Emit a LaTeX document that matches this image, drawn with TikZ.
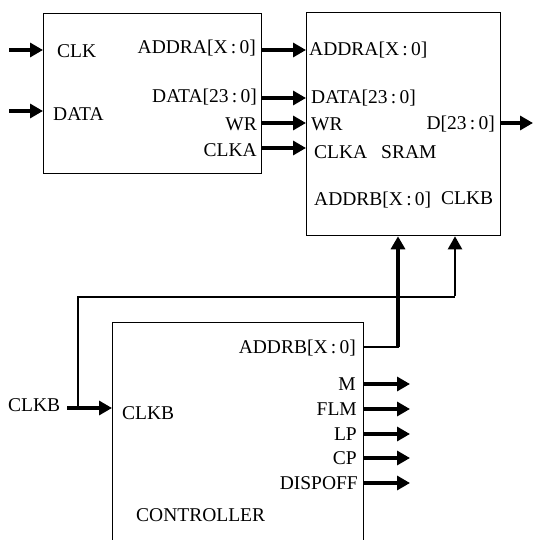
\documentclass[tikz,border=0pt]{standalone}
\usepackage{fontspec}
\setmainfont{Liberation Serif}
\usetikzlibrary{arrows.meta}
\tikzset{
  blk/.style={draw, line width=1.3pt, rectangle, anchor=north west, inner sep=0pt},
  sig/.style={line width=3.2pt, -{Triangle[length=13pt,width=14pt]}},
  sigthin/.style={line width=2.2pt, -{Triangle[length=13pt,width=14pt]}},
  wire/.style={line width=1.4pt},
  lbl/.style={font=\fontsize{19.5}{21}\selectfont, inner sep=0pt},
  lblL/.style={lbl, anchor=west},
  lblR/.style={lbl, anchor=east},
}
\newcommand{\cln}{\,:\,}
\begin{document}
\begin{tikzpicture}[x=1pt,y=-1pt]
\useasboundingbox (0,0) rectangle (535,540);
\clip (0,0) rectangle (535,540);
% blocks
\node[blk, minimum width=218pt, minimum height=160pt] (inb) at (43,13) {};
\node[blk, minimum width=194pt, minimum height=223pt] (sram) at (306,12) {};
\node[blk, minimum width=251pt, minimum height=240pt] (ctl) at (112,322) {};
% input block labels
\node[lblL] (tclk) at (57,51) {CLK};
\node[lblL] (tdata) at (53,114) {DATA};
\node[lblR] (taddra) at (256,48) {ADDRA[X\cln 0]};
\node[lblR] (tdatao) at (257,97) {DATA[23\cln 0]};
\node[lblR] (twr) at (257,124) {WR};
\node[lblR] (tclka) at (257,150) {CLKA};
% SRAM labels
\node[lblL] (saddra) at (309,50) {ADDRA[X\cln 0]};
\node[lblL] (sdata) at (311,98) {DATA[23\cln 0]};
\node[lblL] (swr) at (311,124) {WR};
\node[lblL] (sclka) at (314,152) {CLKA};
\node[lblL] (ssram) at (381,152) {SRAM};
\node[lblR] (sd) at (495,124) {D[23\cln 0]};
\node[lblL] (saddrb) at (314,200) {ADDRB[X\cln 0]};
\node[lblL] (sclkb) at (441,198) {CLKB};
% controller labels
\node[lblR] (caddrb) at (356,348) {ADDRB[X\cln 0]};
\node[lblR] (cm) at (356,384) {M};
\node[lblR] (cflm) at (357,409) {FLM};
\node[lblR] (clp) at (357,434) {LP};
\node[lblR] (ccp) at (357,458) {CP};
\node[lblR] (cdisp) at (358,483) {DISPOFF};
\node[lblL] (cclkb) at (122,413) {CLKB};
\node[lblL] (cctl) at (136,515) {CONTROLLER};
\node[lblL] (xclkb) at (8,405) {CLKB};
% coordinates
\coordinate (clkS) at (9,50);   \coordinate (clkE) at (inb.west |- clkS);
\coordinate (dataS) at (9,111); \coordinate (dataE) at (inb.west |- dataS);
\foreach \n/\y in {a/50, d/98, w/123, c/148}{
  \coordinate (o\n) at (inb.east |- 0,\y);
  \coordinate (i\n) at (sram.west |- 0,\y);
}
\coordinate (dS) at (sram.east |- 0,123); \coordinate (dE) at (533,123);
\coordinate (abS) at (ctl.east |- 0,347); \coordinate (abK) at (398,347);
\coordinate (abE) at (sram.south -| abK);
\coordinate (ckS) at (67,408); \coordinate (ckE) at (ctl.west |- ckS);
\coordinate (ckJ) at (78,408); \coordinate (ckU) at (78,297);
\coordinate (ckK) at (455,297); \coordinate (ckT) at (sram.south -| ckK);
% connectors
\draw[sig] (clkS) -- (clkE);
\draw[sig] (dataS) -- (dataE);
\foreach \n in {a,d,w,c}{ \draw[sig] (o\n) -- (i\n); }
\draw[sig] (dS) -- (dE);
\draw[wire] (abS) -- ([xshift=0.7pt]abK);
\draw[sig] (abK) -- (abE);
\draw[sig] (ckS) -- (ckE);
\draw[wire] (ckJ) -- (ckU) -- (ckK);
\draw[sigthin] ([yshift=0.7pt]ckK) -- (ckT);
\foreach \y/\t in {384/m, 409/f, 434/l, 458/c, 483/d}{
  \coordinate (out\t) at (ctl.east |- 0,\y);
  \coordinate (end\t) at (410,\y);
  \draw[sig] (out\t) -- (end\t);
}
\end{tikzpicture}
\end{document}
